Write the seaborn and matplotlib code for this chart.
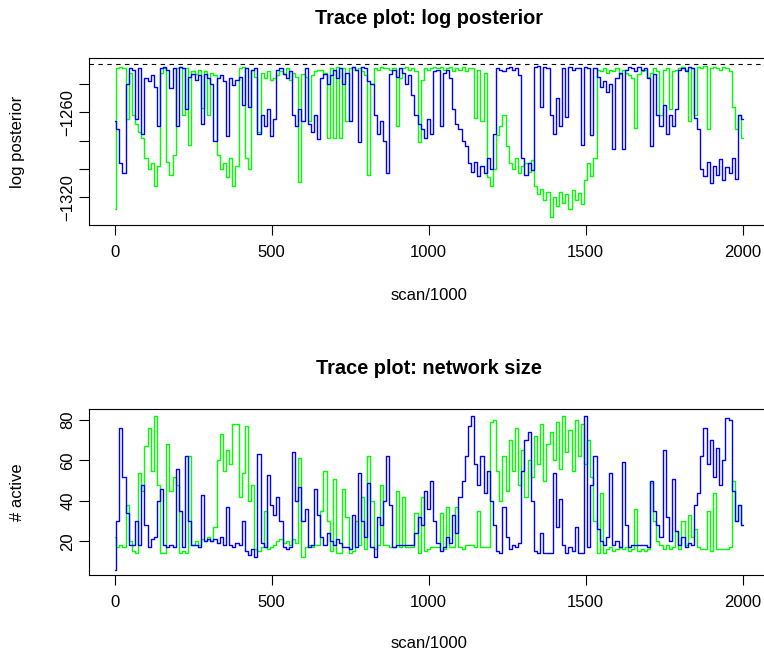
import numpy as np
import pandas as pd
import matplotlib
matplotlib.use("Agg")
import matplotlib.pyplot as plt
import seaborn as sns

# scan index (in thousands), one reading every 10
scan = np.arange(0, 2001, 10)

# log posterior, chain 1 (blue) and chain 2 (green)
blue_logpost = [
    -1266, -1272, -1296, -1303, -1240, -1229, -1230, -1265, -1229, -1275,
    -1236, -1238, -1234, -1242, -1270, -1229, -1228, -1230, -1243, -1229,
    -1270, -1228, -1229, -1258, -1235, -1233, -1237, -1234, -1268, -1233,
    -1236, -1240, -1280, -1236, -1234, -1238, -1277, -1236, -1241, -1237,
    -1235, -1255, -1229, -1256, -1230, -1229, -1275, -1262, -1270, -1258,
    -1277, -1265, -1230, -1229, -1233, -1236, -1231, -1262, -1270, -1258,
    -1266, -1229, -1268, -1274, -1262, -1279, -1236, -1233, -1240, -1234,
    -1230, -1236, -1229, -1240, -1232, -1266, -1228, -1230, -1281, -1228,
    -1229, -1238, -1240, -1262, -1275, -1266, -1280, -1303, -1233, -1230,
    -1235, -1229, -1232, -1240, -1234, -1248, -1262, -1268, -1272, -1278,
    -1265, -1275, -1231, -1230, -1270, -1232, -1230, -1236, -1258, -1268,
    -1272, -1280, -1284, -1296, -1302, -1295, -1305, -1298, -1303, -1292,
    -1300, -1275, -1229, -1230, -1231, -1229, -1228, -1230, -1229, -1234,
    -1292, -1304, -1296, -1301, -1228, -1227, -1256, -1228, -1229, -1262,
    -1275, -1250, -1270, -1229, -1263, -1228, -1230, -1229, -1229, -1283,
    -1228, -1229, -1276, -1229, -1235, -1242, -1238, -1246, -1240, -1286,
    -1236, -1232, -1286, -1230, -1228, -1229, -1231, -1228, -1230, -1229,
    -1236, -1284, -1233, -1262, -1270, -1255, -1275, -1262, -1270, -1258,
    -1230, -1229, -1231, -1228, -1229, -1264, -1272, -1300, -1305, -1295,
    -1310, -1298, -1304, -1293, -1308, -1299, -1303, -1292, -1307, -1262,
    -1265,
]
green_logpost = [
    -1328, -1229, -1228, -1229, -1265, -1232, -1262, -1268, -1274, -1278,
    -1292, -1300, -1296, -1312, -1298, -1232, -1229, -1295, -1304, -1290,
    -1229, -1228, -1262, -1229, -1283, -1231, -1233, -1230, -1257, -1231,
    -1262, -1232, -1234, -1290, -1300, -1296, -1306, -1292, -1312, -1298,
    -1229, -1228, -1292, -1300, -1230, -1235, -1274, -1232, -1236, -1231,
    -1237, -1236, -1234, -1231, -1233, -1229, -1237, -1232, -1235, -1309,
    -1233, -1235, -1266, -1234, -1231, -1230, -1230, -1232, -1278, -1229,
    -1278, -1228, -1278, -1229, -1266, -1229, -1228, -1230, -1229, -1231,
    -1234, -1304, -1240, -1229, -1230, -1228, -1229, -1229, -1230, -1229,
    -1270, -1236, -1229, -1228, -1230, -1229, -1231, -1281, -1237, -1229,
    -1230, -1229, -1228, -1229, -1228, -1230, -1229, -1228, -1231, -1229,
    -1230, -1228, -1231, -1229, -1229, -1264, -1230, -1266, -1232, -1306,
    -1312, -1300, -1276, -1270, -1262, -1284, -1296, -1300, -1292, -1303,
    -1298, -1296, -1302, -1294, -1312, -1318, -1314, -1322, -1316, -1334,
    -1320, -1326, -1316, -1324, -1318, -1328, -1315, -1322, -1317, -1325,
    -1308, -1296, -1305, -1292, -1230, -1231, -1229, -1232, -1230, -1231,
    -1229, -1233, -1230, -1232, -1234, -1236, -1271, -1233, -1231, -1230,
    -1235, -1232, -1229, -1231, -1262, -1230, -1229, -1258, -1231, -1230,
    -1229, -1228, -1230, -1266, -1229, -1262, -1228, -1229, -1227, -1272,
    -1229, -1228, -1229, -1230, -1228, -1229, -1231, -1256, -1272, -1262,
    -1278,
]
best_logpost = -1226.1

# network size (# active), same two chains
blue_active = [
    6, 30, 76, 52, 34, 18, 18, 30, 18, 48,
    28, 17, 21, 22, 40, 46, 18, 17, 18, 17,
    56, 35, 17, 62, 30, 18, 18, 17, 43, 20,
    21, 20, 21, 19, 22, 18, 37, 18, 17, 19,
    18, 30, 15, 13, 16, 12, 63, 19, 17, 53,
    38, 33, 42, 30, 17, 16, 17, 64, 40, 47,
    30, 36, 17, 18, 46, 33, 22, 18, 24, 20,
    18, 21, 19, 17, 17, 16, 33, 17, 54, 30,
    22, 49, 17, 12, 32, 28, 40, 62, 38, 17,
    18, 18, 18, 18, 18, 18, 24, 32, 28, 45,
    36, 50, 30, 19, 15, 17, 22, 19, 33, 24,
    42, 50, 62, 77, 82, 58, 48, 62, 44, 55,
    40, 28, 15, 14, 37, 22, 16, 18, 17, 19,
    55, 70, 74, 40, 15, 14, 24, 14, 14, 14,
    54, 27, 41, 18, 14, 17, 15, 27, 14, 14,
    82, 17, 48, 62, 26, 20, 18, 22, 54, 18,
    20, 17, 59, 28, 17, 18, 18, 18, 18, 18,
    17, 50, 35, 28, 22, 65, 32, 20, 51, 25,
    18, 22, 17, 19, 18, 38, 44, 62, 76, 58,
    70, 52, 66, 48, 60, 81, 80, 45, 30, 38,
    28,
]
green_active = [
    22, 17, 18, 17, 38, 20, 15, 14, 54, 45,
    67, 76, 55, 82, 48, 14, 14, 68, 45, 52,
    48, 14, 15, 14, 62, 18, 20, 18, 21, 20,
    22, 20, 27, 60, 73, 55, 65, 58, 78, 78,
    42, 54, 77, 40, 48, 16, 15, 17, 35, 16,
    17, 18, 20, 21, 19, 20, 18, 21, 19, 61,
    12, 17, 18, 17, 18, 18, 35, 55, 30, 15,
    51, 14, 14, 46, 32, 14, 15, 30, 18, 42,
    16, 62, 40, 16, 18, 48, 18, 18, 17, 17,
    45, 17, 42, 17, 17, 17, 34, 14, 42, 15,
    16, 17, 17, 17, 34, 16, 37, 17, 17, 37,
    17, 16, 18, 18, 18, 17, 35, 17, 17, 17,
    79, 80, 55, 40, 62, 45, 70, 55, 76, 48,
    65, 42, 60, 52, 72, 58, 78, 50, 68, 74,
    60, 79, 56, 82, 64, 75, 55, 80, 62, 78,
    58, 70, 52, 30, 14, 44, 14, 16, 17, 15,
    16, 17, 16, 17, 15, 16, 36, 15, 16, 15,
    16, 49, 30, 20, 18, 16, 18, 16, 17, 25,
    16, 30, 18, 33, 22, 26, 17, 16, 16, 35,
    15, 44, 16, 16, 16, 16, 17, 50, 30, 38,
    28,
]

df = pd.DataFrame({
    "scan": scan,
    "blue_logpost": blue_logpost,
    "green_logpost": green_logpost,
    "blue_active": blue_active,
    "green_active": green_active,
})

sns.set_style("white")
plt.rcParams["font.family"] = ["Liberation Sans", "DejaVu Sans"]
plt.rcParams["text.color"] = "black"

W, H = 764, 657
fig = plt.figure(figsize=(W / 100, H / 100), dpi=100)

# panel boxes in pixels (left, right, top, bottom); right edge runs off the page like the original
x0, x1 = 89.4, 767.8
ax1 = fig.add_axes([x0 / W, 1 - 225 / H, (x1 - x0) / W, (225 - 58.3) / H])
ax2 = fig.add_axes([x0 / W, 1 - 575 / H, (x1 - x0) / W, (575 - 409.3) / H])

# step drawing keeps the jumps vertical, like a dense MCMC trace
line_kws = dict(lw=1.0, drawstyle="steps-mid", estimator=None, sort=False)

sns.lineplot(data=df, x="scan", y="green_logpost", ax=ax1, color="#00FF00", **line_kws)
sns.lineplot(data=df, x="scan", y="blue_logpost", ax=ax1, color="#0000FF", **line_kws)
ax1.axhline(best_logpost, color="black", lw=0.8, linestyle=(0, (4, 4)))
ax1.set_ylim(-1339.6, -1221.9)
ax1.set_yticks([-1320, -1300, -1280, -1260, -1240])
ax1.set_yticklabels(["\u22121320", "", "", "\u22121260", ""])

sns.lineplot(data=df, x="scan", y="green_active", ax=ax2, color="#00FF00", **line_kws)
sns.lineplot(data=df, x="scan", y="blue_active", ax=ax2, color="#0000FF", **line_kws)
ax2.set_ylim(3.3, 85.3)
ax2.set_yticks([20, 40, 60, 80])

for ax in (ax1, ax2):
    ax.set_xlim(-80, 2080)
    ax.set_xticks([0, 500, 1000, 1500, 2000])
    ax.set_xlabel("")
    ax.set_ylabel("")
    for side in ax.spines.values():
        side.set_visible(True)
        side.set_color("black")
        side.set_linewidth(0.8)
    ax.tick_params(axis="both", which="major", direction="out", length=7.2, width=0.8,
                   color="black", labelsize=12, labelcolor="black",
                   bottom=True, left=True, top=False, right=False)
    ax.tick_params(axis="x", pad=7.5)
    ax.tick_params(axis="y", pad=3, labelrotation=90)
    for lab in ax.get_yticklabels():
        lab.set_va("center")

cx = (x0 + x1) / 2 / W
fig.text(cx, 1 - 18 / H, "Trace plot: log posterior", ha="center", va="center",
         fontsize=14.4, fontweight="bold")
fig.text(cx, 1 - 296 / H, "scan/1000", ha="center", va="center", fontsize=12)
fig.text(18 / W, 1 - 141.6 / H, "log posterior", ha="center", va="center",
         rotation=90, fontsize=12)

fig.text(cx, 1 - 368 / H, "Trace plot: network size", ha="center", va="center",
         fontsize=14.4, fontweight="bold")
fig.text(cx, 1 - 643 / H, "scan/1000", ha="center", va="center", fontsize=12)
fig.text(18 / W, 1 - 492 / H, "# active", ha="center", va="center",
         rotation=90, fontsize=12)

fig.savefig("out.png", dpi=100, facecolor="white")
